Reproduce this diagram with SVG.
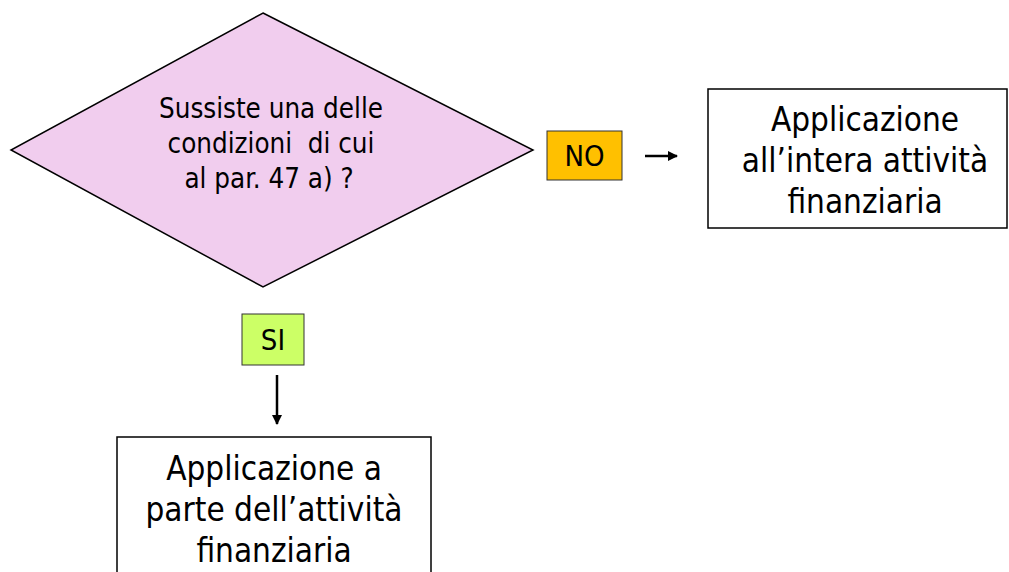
<svg xmlns="http://www.w3.org/2000/svg" width="1009" height="572" viewBox="0 0 1009 572">
<defs>
<marker id="arr" viewBox="0 0 10 10" refX="9" refY="5" markerWidth="4" markerHeight="4" orient="auto" markerUnits="strokeWidth">
<path d="M0,0 L10,5 L0,10 z" fill="#000"/>
</marker>
<style>
.t{font-family:"DejaVu Sans Condensed","DejaVu Sans",Verdana,sans-serif;fill:#000;text-anchor:middle}
.box{fill:#fff;stroke:#000;stroke-width:1.5}
</style>
</defs>
<rect width="1009" height="572" fill="#fff"/>
<g id="decision">
<polygon points="263,13 533,150 263,287 11,150" fill="#F1CDEE" stroke="#000" stroke-width="1.5"/>
<text class="t" font-size="27.5" xml:space="preserve"><tspan x="271" y="118">Sussiste una delle</tspan><tspan x="271" y="153">condizioni  di cui</tspan><tspan x="269" y="188">al par. 47 a) ?</tspan></text>
</g>
<g id="label-no">
<rect x="547" y="131" width="75" height="49" fill="#FFC000" stroke="#333" stroke-width="1"/>
<text class="t" font-size="29" x="584.5" y="166">NO</text>
</g>
<g id="label-si">
<rect x="242" y="314" width="62" height="51" fill="#CCFF66" stroke="#333" stroke-width="1"/>
<text class="t" font-size="29" x="273" y="350">SI</text>
</g>
<g id="box-intera">
<rect class="box" x="708" y="89" width="299" height="139"/>
<text class="t" font-size="33"><tspan x="865" y="131">Applicazione</tspan><tspan x="865" y="172">all’intera attività</tspan><tspan x="865" y="213">finanziaria</tspan></text>
</g>
<g id="box-parte">
<rect class="box" x="117" y="437" width="314" height="150"/>
<text class="t" font-size="33"><tspan x="274" y="480">Applicazione a</tspan><tspan x="274" y="521">parte dell’attività</tspan><tspan x="274" y="562">finanziaria</tspan></text>
</g>
<g id="connectors">
<line x1="645" y1="156" x2="677" y2="156" stroke="#000" stroke-width="2.5" marker-end="url(#arr)"/>
<line x1="277" y1="375" x2="277" y2="424" stroke="#000" stroke-width="2.5" marker-end="url(#arr)"/>
</g>
</svg>
